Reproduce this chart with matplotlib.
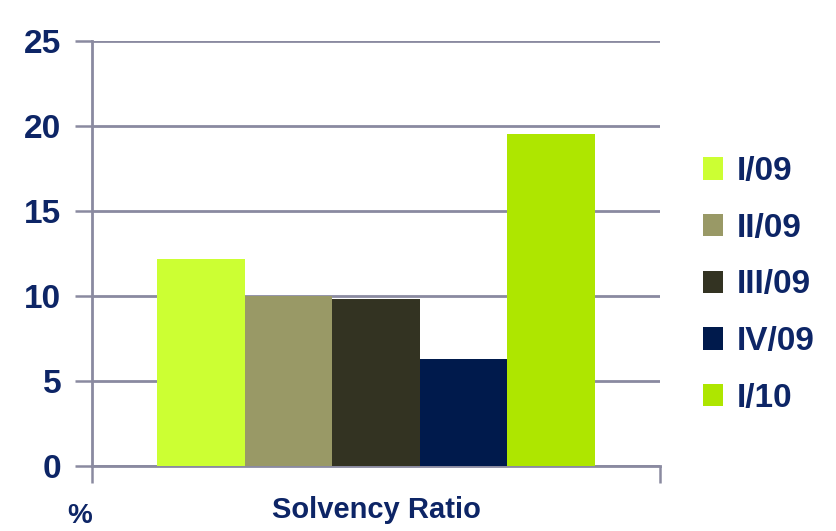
import numpy as np
import matplotlib.pyplot as plt
import matplotlib.transforms as mtransforms
from matplotlib.patches import Patch

# ============================================================
# DATA
# ============================================================
quarters = ["I/09", "II/09", "III/09", "IV/09", "I/10"]
solvency = [12.2, 10.0, 9.8, 6.3, 19.5]
bar_colors = ["#ccff33", "#999966", "#333322", "#001a4c", "#aee600"]
y_ticks = [0, 5, 10, 15, 20, 25]
category = "Solvency Ratio"

NAVY = "#0d2566"
GRID = "#8a8aa0"

plt.rcParams['font.family'] = ['Liberation Sans', 'DejaVu Sans']

fig = plt.figure(figsize=(8.36, 5.31), dpi=100)
ax = fig.add_axes([0.110, 0.1224, 0.6795, 0.8004])

x = np.arange(len(quarters))
ax.bar(x, solvency, width=1.0, color=bar_colors, zorder=3)

ax.set_xlim(-1.242, 5.242)
ax.set_ylim(0, 25)
ax.set_yticks(y_ticks)
ax.set_yticklabels([str(t) for t in y_ticks], fontsize=24,
                   fontweight='bold', color=NAVY)
ax.tick_params(axis='y', length=12, width=1.8, color=GRID, pad=10)
ax.set_xticks([-1.242, 5.242])
ax.set_xticklabels(["", ""])
ax.tick_params(axis='x', length=12, width=1.8, color=GRID)

ax.grid(axis='y', color=GRID, linewidth=2.0, zorder=0)
ax.set_axisbelow(True)

for side in ['top', 'right']:
    ax.spines[side].set_visible(False)
for side in ['left', 'bottom']:
    ax.spines[side].set_color(GRID)
    ax.spines[side].set_linewidth(2.0)

# category name under the axis and unit label
trans = mtransforms.blended_transform_factory(ax.transData, ax.transAxes)
ax.text(x.mean(), -0.1035, category, transform=trans,
        fontsize=21, fontweight='bold', color=NAVY, ha='center', va='center')
fig.text(80 / 836, 1 - 516 / 531, "%", fontsize=20, fontweight='bold',
         color=NAVY, ha='center', va='center')

# legend
handles = [Patch(facecolor=c, edgecolor='none') for c in bar_colors]
leg = fig.legend(handles, quarters, loc='center left',
                 bbox_to_anchor=(703 / 836, 1 - 285 / 531),
                 frameon=False, fontsize=24, handlelength=0.6,
                 handleheight=0.65, handletextpad=0.4, labelspacing=0.77,
                 borderpad=0, borderaxespad=0)
for t in leg.get_texts():
    t.set_color(NAVY)
    t.set_fontweight('bold')

fig.savefig("out.png", dpi=100)
